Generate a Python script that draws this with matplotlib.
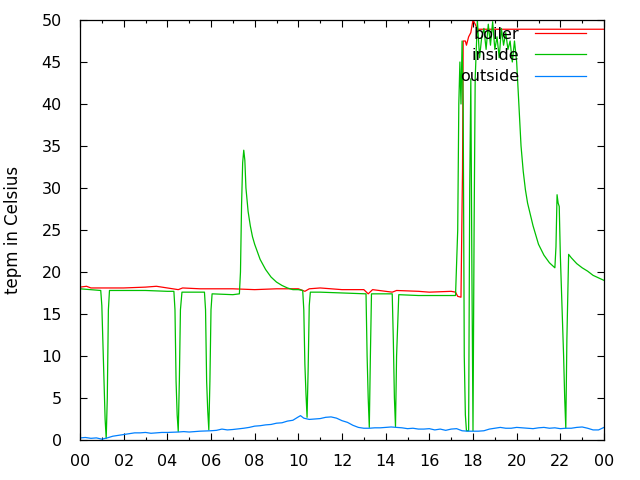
import matplotlib
matplotlib.use("Agg")
import matplotlib.pyplot as plt
from matplotlib.ticker import MultipleLocator, FuncFormatter

# -----------------------
# Data (hours since midnight, degrees C)
# -----------------------
t_boiler = [0.0, 0.3, 0.5, 1.0, 2.0, 3.0, 3.5, 4.0, 4.5, 4.7, 5.5, 6.0, 7.0, 8.0,
            9.0, 10.0, 10.3, 10.5, 11.0, 12.0, 13.0, 13.2, 13.4, 14.3, 14.5, 15.5,
            16.0, 17.0, 17.2, 17.3, 17.45, 17.5, 17.52, 17.55, 17.65, 17.7, 17.8,
            17.9, 18.0, 18.1, 18.2, 24.0]
boiler = [18.2, 18.3, 18.1, 18.1, 18.1, 18.2, 18.3, 18.1, 17.9, 18.1, 18.0, 18.0,
          18.0, 17.9, 18.0, 18.0, 17.7, 18.0, 18.1, 17.9, 17.9, 17.4, 17.9, 17.6,
          17.8, 17.7, 17.6, 17.7, 17.6, 17.1, 17.0, 28.0, 32.0, 47.5, 47.5, 47.0,
          48.0, 48.5, 50.0, 49.5, 48.9, 48.9]

t_inside = [0.0, 0.5, 0.95, 1.0, 1.05, 1.1, 1.15, 1.2, 1.25, 1.3, 1.35, 2.0, 3.0,
            4.0, 4.3, 4.35, 4.4, 4.45, 4.5, 4.55, 4.6, 4.67, 5.0, 5.7, 5.75, 5.8,
            5.85, 5.9, 5.95, 6.0, 6.05, 7.0, 7.3, 7.35, 7.4, 7.45, 7.5, 7.55, 7.6,
            7.7, 7.8, 7.9, 8.0, 8.25, 8.5, 8.75, 9.0, 9.25, 9.5, 9.75, 10.0, 10.2,
            10.25, 10.3, 10.35, 10.4, 10.45, 10.5, 10.55, 11.0, 12.0, 13.0, 13.1,
            13.15, 13.2, 13.25, 13.3, 13.35, 14.3, 14.35, 14.4, 14.45, 14.5, 14.6,
            15.5, 16.0, 17.2, 17.3, 17.35, 17.4, 17.45, 17.5, 17.55, 17.6, 17.65,
            17.7, 17.8, 17.85, 17.9, 17.95, 18.0, 18.05, 18.1, 18.2, 18.3, 18.4,
            18.5, 18.6, 18.7, 18.8, 18.9, 19.0, 19.1, 19.2, 19.3, 19.4, 19.5, 19.6,
            19.7, 19.8, 19.9, 20.0, 20.1, 20.2, 20.3, 20.4, 20.5, 20.75, 21.0,
            21.25, 21.5, 21.75, 21.8, 21.85, 21.9, 21.95, 22.0, 22.1, 22.15, 22.2,
            22.25, 22.3, 22.38, 22.5, 22.75, 23.0, 23.25, 23.5, 23.75, 24.0]
inside = [18.0, 17.9, 17.8, 16.0, 11.5, 7.0, 2.5, 0.2, 5.0, 15.5, 17.8, 17.8, 17.8,
          17.7, 17.7, 15.5, 7.0, 3.0, 1.0, 7.0, 15.5, 17.6, 17.6, 17.6, 15.5, 7.0,
          3.5, 1.2, 7.0, 15.5, 17.4, 17.3, 17.4, 20.0, 28.0, 33.0, 34.5, 33.3, 30.0,
          27.2, 25.5, 24.2, 23.3, 21.5, 20.3, 19.4, 18.8, 18.4, 18.1, 17.9, 17.9,
          17.8, 15.5, 9.0, 5.5, 2.7, 8.5, 16.0, 17.6, 17.6, 17.5, 17.4, 17.4, 10.0,
          5.0, 1.5, 10.0, 17.4, 17.4, 12.0, 5.0, 1.6, 10.0, 17.3, 17.2, 17.2, 17.2,
          25.0, 40.0, 45.0, 40.0, 47.5, 40.0, 10.0, 3.0, 1.1, 1.1, 30.0, 43.0, 20.0,
          1.1, 25.0, 43.0, 50.0, 45.5, 48.0, 49.0, 46.5, 49.5, 47.0, 49.8, 46.5,
          48.0, 45.5, 49.0, 47.0, 48.5, 46.5, 47.5, 45.0, 47.5, 45.0, 40.0, 35.0,
          32.0, 29.8, 28.2, 25.5, 23.3, 22.0, 21.1, 20.5, 23.0, 29.2, 28.2, 27.8,
          22.0, 14.0, 10.0, 5.0, 1.4, 12.0, 22.1, 21.7, 21.0, 20.5, 20.1, 19.6,
          19.3, 19.0]

t_outside = [0.0, 0.25, 0.5, 0.75, 1.0, 1.25, 1.5, 1.75, 2.0, 2.25, 2.5, 2.75, 3.0,
             3.25, 3.5, 3.75, 4.0, 4.5, 4.75, 5.0, 5.25, 5.5, 6.0, 6.25, 6.5, 6.75,
             7.0, 7.5, 7.75, 8.0, 8.25, 8.5, 8.75, 9.0, 9.25, 9.5, 9.75, 10.0, 10.1,
             10.25, 10.5, 10.75, 11.0, 11.25, 11.5, 11.75, 12.0, 12.25, 12.5, 12.75,
             13.0, 13.25, 13.5, 13.75, 14.0, 14.25, 14.5, 14.75, 15.0, 15.25, 15.5,
             15.75, 16.0, 16.25, 16.5, 16.75, 17.0, 17.25, 17.5, 17.75, 18.0, 18.25,
             18.5, 18.75, 19.0, 19.25, 19.5, 19.75, 20.0, 20.25, 20.5, 20.75, 21.0,
             21.25, 21.5, 21.75, 22.0, 22.25, 22.5, 22.75, 23.0, 23.25, 23.5, 23.75,
             24.0]
outside = [0.25, 0.3, 0.2, 0.25, 0.1, 0.25, 0.45, 0.55, 0.65, 0.75, 0.85, 0.85, 0.9,
           0.8, 0.85, 0.9, 0.9, 0.95, 1.0, 0.95, 1.0, 1.05, 1.1, 1.15, 1.3, 1.2, 1.25,
           1.4, 1.5, 1.65, 1.7, 1.8, 1.85, 2.0, 2.05, 2.25, 2.35, 2.75, 2.9, 2.6,
           2.45, 2.5, 2.55, 2.7, 2.75, 2.6, 2.3, 2.1, 1.75, 1.5, 1.4, 1.4, 1.45,
           1.45, 1.5, 1.55, 1.5, 1.45, 1.35, 1.4, 1.3, 1.3, 1.35, 1.2, 1.3, 1.15,
           1.3, 1.35, 1.1, 1.05, 1.05, 1.05, 1.1, 1.3, 1.4, 1.5, 1.4, 1.4, 1.5,
           1.45, 1.4, 1.35, 1.45, 1.5, 1.4, 1.45, 1.35, 1.4, 1.4, 1.5, 1.55, 1.4,
           1.2, 1.2, 1.5]

# -----------------------
# Plot
# -----------------------
plt.rcParams['font.family'] = ['DejaVu Sans']
fig = plt.figure(figsize=(6.4, 4.8), dpi=100)
ax = fig.add_axes([80 / 640, 40 / 480, 524 / 640, 420 / 480])

lw = 0.9
ax.plot(t_boiler, boiler, color='#ff0000', lw=lw, label='boiler')
ax.plot(t_inside, inside, color='#00c000', lw=lw, label='inside')
ax.plot(t_outside, outside, color='#0080ff', lw=lw, label='outside')

ax.set_xlim(0, 24)
ax.set_ylim(0, 50)
ax.xaxis.set_major_locator(MultipleLocator(2))
ax.xaxis.set_minor_locator(MultipleLocator(1))
ax.yaxis.set_major_locator(MultipleLocator(5))
ax.xaxis.set_major_formatter(FuncFormatter(lambda v, p: f"{int(round(v)) % 24:02d}"))

ax.tick_params(which='both', direction='in', top=True, right=True, labelsize=11.5,
               colors='black', width=0.8)
ax.tick_params(which='major', length=5)
ax.tick_params(which='minor', length=2.5)
ax.tick_params(axis='x', pad=10)
ax.tick_params(axis='y', pad=13)
for s in ax.spines.values():
    s.set_linewidth(0.9)

ax.set_ylabel('tepm in Celsius', fontsize=12, labelpad=14)

ax.legend(loc='upper right', bbox_to_anchor=(586 / 640, 1 - 27 / 480),
          bbox_transform=fig.transFigure, frameon=False, markerfirst=False,
          fontsize=11.5, handlelength=3.2, handletextpad=1.0, labelspacing=0.38,
          borderpad=0, borderaxespad=0)

fig.savefig('out.png', dpi=100)
